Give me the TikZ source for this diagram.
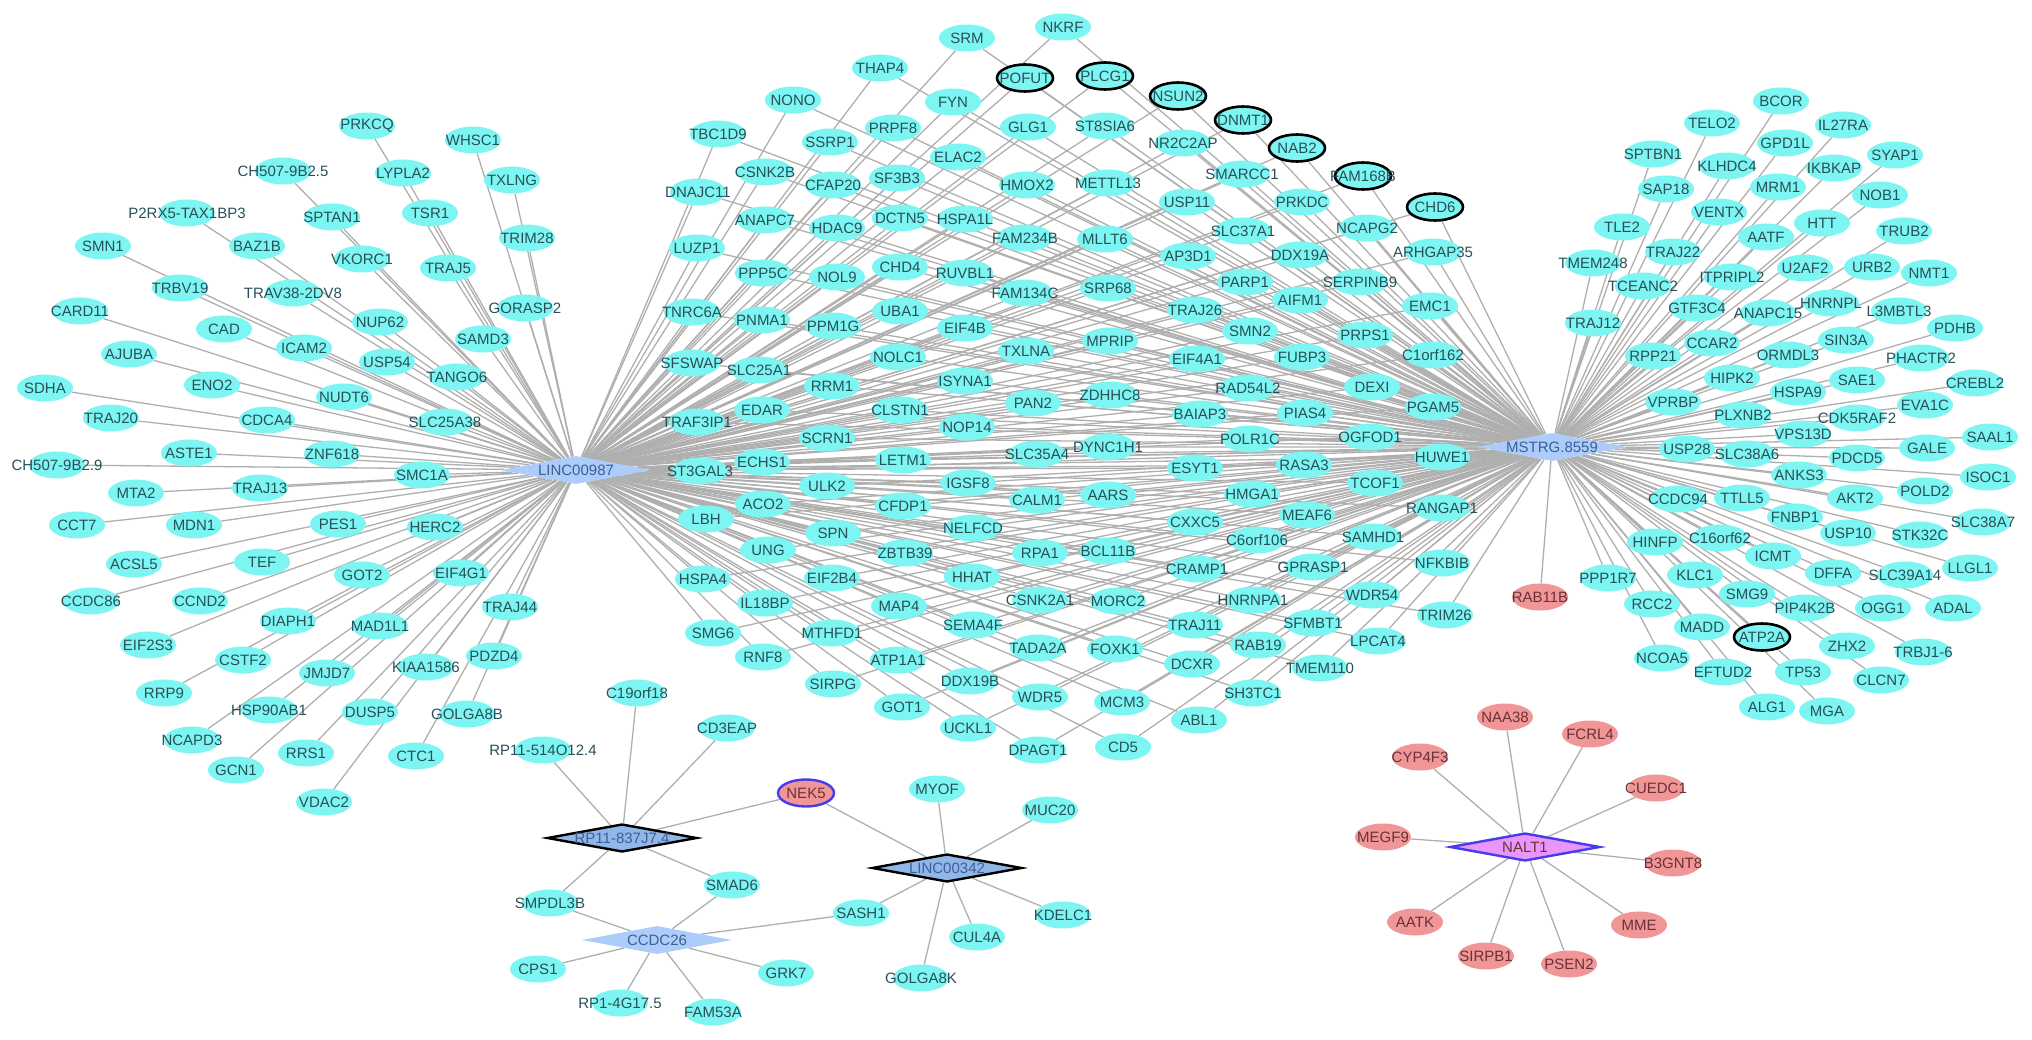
\documentclass[tikz,border=0pt]{standalone}
\usepackage{fontspec}
\setmainfont{Liberation Sans}
\usetikzlibrary{shapes.geometric,backgrounds}
\definecolor{genefill}{RGB}{125,245,242}
\definecolor{genetext}{RGB}{40,80,88}
\definecolor{pinkfill}{RGB}{240,150,150}
\definecolor{pinktext}{RGB}{105,50,55}
\definecolor{hubfill}{RGB}{172,205,250}
\definecolor{hubdark}{RGB}{145,182,232}
\definecolor{hubtext}{RGB}{60,95,150}
\definecolor{naltfill}{RGB}{232,150,250}
\definecolor{naltline}{RGB}{70,60,235}
\definecolor{linkgray}{RGB}{175,175,175}
\tikzset{
  gene/.style={ellipse,fill=genefill,text=genetext,minimum width=56pt,minimum height=27pt,inner sep=0pt},
  genebold/.style={gene,draw=black,line width=2.6pt},
  pinkgene/.style={gene,fill=pinkfill,text=pinktext},
  hub/.style={diamond,aspect=5,fill=hubfill,text=hubtext,minimum width=150pt,minimum height=28pt,inner sep=0pt},
  hubbold/.style={hub,fill=hubdark,draw=black,line width=2.4pt},
  link/.style={draw=linkgray,line width=1.3pt}
}
\newcommand{\glab}[1]{\makebox[0pt]{#1}}
% LINC00987 only
\newcommand{\leftgenes}{PRKCQ/367/126, WHSC1/473/140, LYPLA2/403/173, TXLNG/512/180, TSR1/430/213,
  P2RX5-TAX1BP3/187/213, SPTAN1/332/217, TRIM28/527/238, SMN1/103/246, BAZ1B/257/246, VKORC1/362/259,
  TRAJ5/448/268, TRBV19/180/288, TRAV38-2DV8/293/293, GORASP2/525/308, CARD11/80/311, NUP62/380/322,
  CAD/224/329, SAMD3/483/339, ICAM2/304/348, AJUBA/129/354, USP54/387/362, TANGO6/457/377, SDHA/45/388,
  ENO2/212/385, NUDT6/344/397, TRAJ20/111/418, CDCA4/267/420, SLC25A38/445/422, ASTE1/189/453,
  ZNF618/332/454, SMC1A/422/475, MTA2/136/493, TRAJ13/260/488, CCT7/77/525, MDN1/194/525, PES1/338/524,
  HERC2/435/527, ACSL5/134/564, TEF/262/562, GOT2/362/575, EIF4G1/461/573, CCDC86/91/601, CCND2/200/601,
  TRAJ44/510/607, DIAPH1/288/621, MAD1L1/380/626, EIF2S3/148/645, PDZD4/494/656, CSTF2/243/660,
  KIAA1586/426/667, JMJD7/327/673, RRP9/164/693, HSP90AB1/269/710, DUSP5/370/712, GOLGA8B/467/714,
  NCAPD3/192/740, RRS1/306/753, CTC1/416/756, GCN1/236/770, VDAC2/324/802}
% shared by both hubs
\newcommand{\midgenes}{SRM/967/38, NKRF/1063/27, THAP4/880/68, NONO/793/100, FYN/953/102, PRPF8/893/128,
  GLG1/1028/127, ST8SIA6/1105/126, TBC1D9/718/134, SSRP1/830/142, NR2C2AP/1183/143, ELAC2/958/157,
  CSNK2B/765/172, SMARCC1/1242/174, SF3B3/897/178, CFAP20/833/185, HMOX2/1027/185, METTL13/1108/183,
  DNAJC11/698/192, USP11/1187/202, PRKDC/1302/202, DCTN5/900/218, HSPA1L/965/219, ANAPC7/765/220,
  HDAC9/837/228, NCAPG2/1367/228, SLC37A1/1243/231, FAM234B/1025/238, MLLT6/1105/239, LUZP1/697/248,
  ARHGAP35/1433/252, DDX19A/1300/255, AP3D1/1188/256, CHD4/900/267, PPP5C/763/273, RUVBL1/965/273,
  NOL9/837/277, PARP1/1245/282, SERPINB9/1360/282, SRP68/1108/288, FAM134C/1025/293, AIFM1/1300/300,
  EMC1/1430/306, TRAJ26/1195/310, UBA1/900/311, TNRC6A/692/312, PNMA1/762/320, PPM1G/833/326,
  EIF4B/965/328, SMN2/1250/331, PRPS1/1365/335, MPRIP/1110/341, TXLNA/1026/351, C1orf162/1433/355,
  NOLC1/898/357, FUBP3/1302/357, EIF4A1/1197/359, SFSWAP/692/363, SLC25A1/759/370, ISYNA1/965/381,
  RRM1/832/386, DEXI/1372/387, RAD54L2/1248/388, ZDHHC8/1110/395, PAN2/1033/403, PGAM5/1433/407,
  EDAR/762/410, CLSTN1/900/410, PIAS4/1305/413, BAIAP3/1200/414, TRAF3IP1/697/422, NOP14/967/427,
  SCRN1/827/438, OGFOD1/1370/437, POLR1C/1250/439, DYNC1H1/1108/447, SLC35A4/1037/454, HUWE1/1442/457,
  LETM1/903/460, ECHS1/762/462, RASA3/1304/465, ESYT1/1195/468, ST3GAL3/700/471, TCOF1/1375/483,
  IGSF8/968/483, ULK2/827/486, HMGA1/1252/494, AARS/1108/495, CALM1/1037/500, ACO2/763/504,
  CFDP1/903/506, RANGAP1/1442/508, MEAF6/1307/515, LBH/706/519, CXXC5/1195/522, NELFCD/973/528,
  SPN/833/533, SAMHD1/1373/537, C6orf106/1257/540, UNG/768/550, BCL11B/1108/551, ZBTB39/905/553,
  RPA1/1040/553, NFKBIB/1442/563, GPRASP1/1313/567, CRAMP1/1197/569, HHAT/972/577, EIF2B4/832/578,
  HSPA4/703/579, WDR54/1372/595, HNRNPA1/1253/600, CSNK2A1/1040/600, MORC2/1118/601, IL18BP/765/603,
  MAP4/899/606, TRIM26/1445/615, SFMBT1/1313/623, TRAJ11/1195/625, SEMA4F/973/625, SMG6/713/633,
  MTHFD1/832/633, LPCAT4/1378/641, RAB19/1258/645, TADA2A/1038/648, FOXK1/1115/649, RNF8/763/657,
  ATP1A1/898/660, DCXR/1192/664, TMEM110/1320/668, DDX19B/970/681, SIRPG/833/684, SH3TC1/1253/693,
  WDR5/1040/697, MCM3/1122/702, GOT1/902/707, ABL1/1199/720, UCKL1/968/728, CD5/1123/747,
  DPAGT1/1038/750}
\newcommand{\midbold}{POFUT/1025/78, PLCG1/1105/76, NSUN2/1178/96, DNMT1/1243/120, NAB2/1297/148,
  FAM168B/1363/176, CHD6/1435/207}
% MSTRG.8559 only
\newcommand{\rightgenes}{BCOR/1781/101, TELO2/1712/123, IL27RA/1843/125, GPD1L/1785/143, SPTBN1/1653/154,
  SYAP1/1895/155, KLHDC4/1727/166, IKBKAP/1834/168, MRM1/1778/187, SAP18/1666/189, NOB1/1880/195,
  VENTX/1719/212, HTT/1822/223, TLE2/1622/227, TRUB2/1904/231, AATF/1766/237, TRAJ22/1673/252,
  TMEM248/1593/263, URB2/1872/267, U2AF2/1805/268, NMT1/1929/273, ITPRIPL2/1732/277, TCEANC2/1643/286,
  HNRNPL/1831/303, GTF3C4/1697/308, L3MBTL3/1899/311, ANAPC15/1768/313, TRAJ12/1593/323, PDHB/1955/328,
  SIN3A/1846/340, CCAR2/1712/343, ORMDL3/1788/355, RPP21/1653/356, PHACTR2/1921/358, HIPK2/1732/378,
  SAE1/1857/380, CREBL2/1975/383, HSPA9/1798/392, VPRBP/1673/402, EVA1C/1925/405, PLXNB2/1743/415,
  CDK5RAF2/1857/418, VPS13D/1803/434, SAAL1/1990/437, GALE/1927/448, USP28/1687/449, SLC38A6/1747/454,
  PDCD5/1857/458, ANKS3/1799/475, ISOC1/1988/477, POLD2/1925/491, TTLL5/1742/498, AKT2/1855/498,
  CCDC94/1678/499, FNBP1/1795/517, SLC38A7/1983/522, USP10/1848/533, STK32C/1920/535, C16orf62/1720/538,
  HINFP/1655/542, ICMT/1773/556, LLGL1/1970/568, DFFA/1833/573, SLC39A14/1905/575, KLC1/1695/575,
  PPP1R7/1608/578, SMG9/1747/594, RCC2/1652/604, PIP4K2B/1805/608, OGG1/1883/608, ADAL/1953/608,
  MADD/1702/627, ZHX2/1847/646, TRBJ1-6/1923/652, NCOA5/1662/658, EFTUD2/1723/672, TP53/1803/672,
  CLCN7/1881/680, ALG1/1767/707, MGA/1827/711}
\newcommand{\naltgenes}{NAA38/1505/717, FCRL4/1590/734, CYP4F3/1420/757, CUEDC1/1656/788, MEGF9/1383/837,
  B3GNT8/1673/863, AATK/1415/922, MME/1639/925, SIRPB1/1486/956, PSEN2/1569/964}
\begin{document}
\begin{tikzpicture}[x=1pt,y=-1pt,font=\fontsize{15}{15}\selectfont]
\useasboundingbox (0,0) rectangle (2032,1040);

\node[hub] (lnc987) at (576,470) {\glab{LINC00987}};
\node[hub] (mstrg) at (1552,447) {\glab{MSTRG.8559}};

\foreach \g/\x/\y in \leftgenes
  \node[gene] (\g) at (\x,\y) {\glab{\g}};
\node[gene] (ch25) at (283,171) {\glab{CH507-9B2.5}};
\node[gene] (ch29) at (57,465) {\glab{CH507-9B2.9}};
\foreach \g/\x/\y in \midgenes
  \node[gene] (\g) at (\x,\y) {\glab{\g}};
\foreach \g/\x/\y in \midbold
  \node[genebold] (\g) at (\x,\y) {\glab{\g}};
\foreach \g/\x/\y in \rightgenes
  \node[gene] (\g) at (\x,\y) {\glab{\g}};
\node[genebold] (ATP2A) at (1762,637) {\glab{ATP2A}};
\node[pinkgene] (RAB11B) at (1540,597) {\glab{RAB11B}};

% small modules
\node[hubbold] (rp837) at (622,838) {\glab{RP11-837J7.4}};
\node[hubbold] (lnc342) at (947,868) {\glab{LINC00342}};
\node[hub] (ccdc26) at (657,940) {\glab{CCDC26}};
\node[pinkgene,draw=naltline,line width=2.4pt] (NEK5) at (806,793) {\glab{NEK5}};
\node[gene] (rp514) at (543,750) {\glab{RP11-514O12.4}};
\node[gene] (C19orf18) at (637,693) {\glab{C19orf18}};
\node[gene] (CD3EAP) at (727,728) {\glab{CD3EAP}};
\node[gene] (SMAD6) at (732,885) {\glab{SMAD6}};
\node[gene] (SMPDL3B) at (550,903) {\glab{SMPDL3B}};
\node[gene] (CPS1) at (538,969) {\glab{CPS1}};
\node[gene] (rp4g) at (620,1003) {\glab{RP1-4G17.5}};
\node[gene] (FAM53A) at (713,1012) {\glab{FAM53A}};
\node[gene] (GRK7) at (786,973) {\glab{GRK7}};
\node[gene] (SASH1) at (861,913) {\glab{SASH1}};
\node[gene] (MYOF) at (937,789) {\glab{MYOF}};
\node[gene] (MUC20) at (1050,810) {\glab{MUC20}};
\node[gene] (KDELC1) at (1063,915) {\glab{KDELC1}};
\node[gene] (CUL4A) at (977,937) {\glab{CUL4A}};
\node[gene] (GOLGA8K) at (921,978) {\glab{GOLGA8K}};

\node[hub,fill=naltfill,draw=naltline,line width=2.4pt,text=pinktext] (nalt1) at (1525,847) {\glab{NALT1}};
\foreach \g/\x/\y in \naltgenes
  \node[pinkgene] (\g) at (\x,\y) {\glab{\g}};

\begin{scope}[on background layer]
  \foreach \g/\x/\y in \leftgenes
    \draw[link] (lnc987) -- (\g);
  \foreach \g/\x/\y in \midgenes
    \draw[link] (lnc987) -- (\g) -- (mstrg);
  \foreach \g/\x/\y in \midbold
    \draw[link] (lnc987) -- (\g) -- (mstrg);
  \foreach \g/\x/\y in \rightgenes
    \draw[link] (mstrg) -- (\g);
  \foreach \g/\x/\y in \naltgenes
    \draw[link] (nalt1) -- (\g);
  \draw[link] (lnc987) -- (ch25);
  \draw[link] (lnc987) -- (ch29);
  \draw[link] (mstrg) -- (ATP2A);
  \draw[link] (mstrg) -- (RAB11B);
  \draw[link] (rp837) -- (rp514);
  \draw[link] (rp837) -- (C19orf18);
  \draw[link] (rp837) -- (CD3EAP);
  \draw[link] (rp837) -- (NEK5);
  \draw[link] (rp837) -- (SMAD6);
  \draw[link] (rp837) -- (SMPDL3B);
  \draw[link] (ccdc26) -- (SMPDL3B);
  \draw[link] (ccdc26) -- (SMAD6);
  \draw[link] (ccdc26) -- (SASH1);
  \draw[link] (ccdc26) -- (GRK7);
  \draw[link] (ccdc26) -- (FAM53A);
  \draw[link] (ccdc26) -- (rp4g);
  \draw[link] (ccdc26) -- (CPS1);
  \draw[link] (lnc342) -- (NEK5);
  \draw[link] (lnc342) -- (MYOF);
  \draw[link] (lnc342) -- (MUC20);
  \draw[link] (lnc342) -- (KDELC1);
  \draw[link] (lnc342) -- (CUL4A);
  \draw[link] (lnc342) -- (GOLGA8K);
  \draw[link] (lnc342) -- (SASH1);
\end{scope}
\end{tikzpicture}
\end{document}
